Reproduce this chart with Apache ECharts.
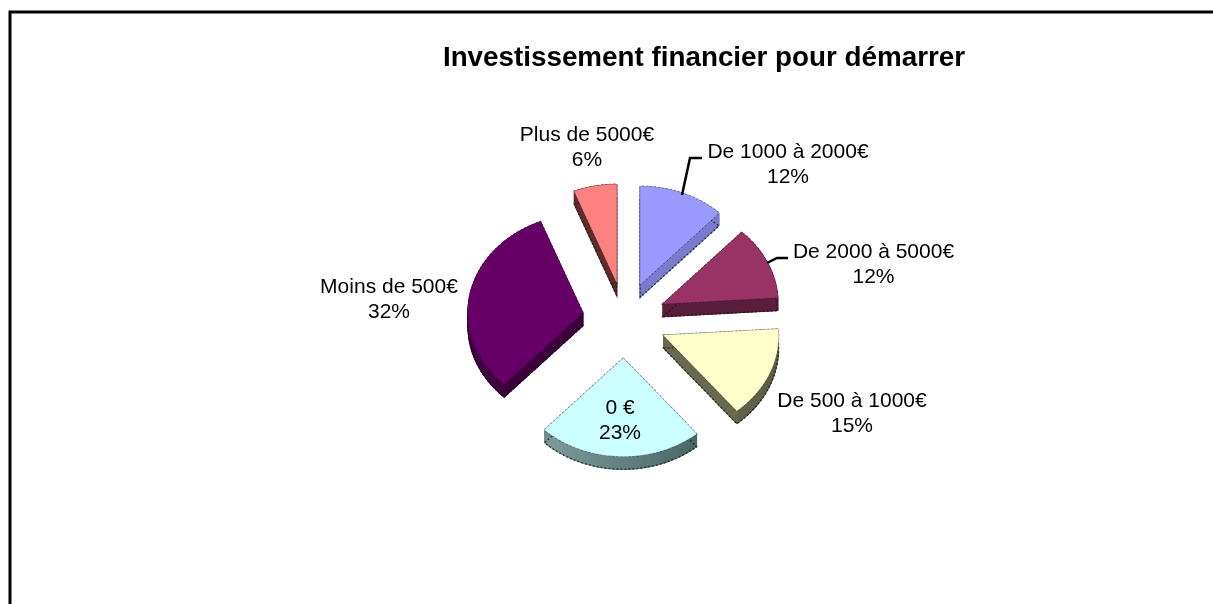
<!DOCTYPE html>
<html><head><meta charset="utf-8">
<style>html,body{margin:0;padding:0;background:#fff}#c{width:1213px;height:604px}</style>
<script src="https://cdn.jsdelivr.net/npm/echarts@6/dist/echarts.min.js"></script>
</head><body><div id="c"></div>
<script>
var categories = ['De 1000 à 2000€','De 2000 à 5000€','De 500 à 1000€','0 €','Moins de 500€','Plus de 5000€'];
var percents = [12,12,15,23,32,6];
var faceColors = ['#9999ff','#993366','#ffffcc','#ccffff','#660066','#ff8080'];
var wallLeft = ['#7a7ad0','#5a1e3d','#6e6e55','#7c9c9c','#430043','#5e2c2c'];
var wallRight = ['#7c7ccc','#5a1e3d','#5e5e48','#4c6666','#3a003a','#5e2c2c'];
var labelAnchors = [[788,165],[873.5,264.5],[852,414],[620,421],[389,300],[587,148]];

var CX=624.6, CY=320, RX=115, RY=98, EX=42.4, EY=38.3, DEPTH=13;
var total = percents.reduce(function(a,b){return a+b;},0);
var starts = [];
percents.reduce(function(a,b,i){starts[i]=a;return a+b;},0);

function renderSlice(params, api){
  var i = params.dataIndex;
  var a0 = api.value(1)/total*2*Math.PI, a1 = a0 + api.value(0)/total*2*Math.PI, mid=(a0+a1)/2;
  var ax = CX+EX*Math.sin(mid), ay = CY-EY*Math.cos(mid);
  var pts=[[ax,ay]], n=48;
  for(var k=0;k<=n;k++){var t=a0+(a1-a0)*k/n; pts.push([ax+RX*Math.sin(t), ay-RY*Math.cos(t)]);}
  var kids=[];
  var shifted=pts.map(function(p){return [p[0],p[1]+DEPTH];});
  var lo=Math.min.apply(null,pts.map(function(p){return p[0];})), hi=Math.max.apply(null,pts.map(function(p){return p[0];}));
  function wallAt(x){return echarts.color.lerp((x-lo)/(hi-lo||1),[wallLeft[i],wallRight[i]]);}
  kids.push({type:'polygon',shape:{points:shifted},style:{fill:wallRight[i],stroke:wallRight[i],lineWidth:1}});
  for(var j=0;j<pts.length;j++){
    var p=pts[j], q=pts[(j+1)%pts.length], c=wallAt((p[0]+q[0])/2);
    kids.push({type:'polygon',shape:{points:[p,q,[q[0],q[1]+DEPTH],[p[0],p[1]+DEPTH]]},style:{fill:c,stroke:c,lineWidth:1}});
  }
  var dash={stroke:'rgba(20,20,20,0.65)',lineWidth:1.6,lineDash:[2,2],fill:null};
  kids.push({type:'polygon',shape:{points:pts},style:dash});
  kids.push({type:'polygon',shape:{points:shifted},style:dash});
  kids.push({type:'polygon',shape:{points:pts},style:{fill:faceColors[i],stroke:faceColors[i],lineWidth:0.5}});
  return {type:'group',children:kids};
}
function renderLabel(params, api){
  var i=params.dataIndex, a=labelAnchors[i];
  return {type:'text',x:a[0],y:a[1],style:{
    text:categories[i]+'\n'+api.value(0)+'%',
    fill:'#000',align:'center',verticalAlign:'middle',
    font:'21px "Liberation Sans"',lineHeight:25}};
}
var rows = percents.map(function(v,i){return [v,starts[i]];});
var chart = echarts.init(document.getElementById('c'),null,{renderer:'canvas'});
chart.setOption({
  animation:false,
  backgroundColor:'#ffffff',
  title:{text:'Investissement financier pour démarrer',left:699,top:39,textAlign:'center',
    textStyle:{color:'#000',fontFamily:'Liberation Sans',fontWeight:'bold',fontSize:27.8}},
  graphic:[
    {type:'polyline',shape:{points:[[10,620],[10,12],[1225,12]]},style:{stroke:'#000',lineWidth:3,fill:null}},
    {type:'polyline',z:5,shape:{points:[[682,195],[690,158],[702,158]]},style:{stroke:'#000',lineWidth:2.5,fill:null}},
    {type:'polyline',z:5,shape:{points:[[767,263],[777,258],[788,258]]},style:{stroke:'#000',lineWidth:2.5,fill:null}}
  ],
  series:[
    {type:'custom',coordinateSystem:'none',silent:true,data:rows,renderItem:renderSlice,z:2},
    {type:'custom',coordinateSystem:'none',silent:true,data:rows,renderItem:renderLabel,z:6}
  ]
});
</script></body></html>
